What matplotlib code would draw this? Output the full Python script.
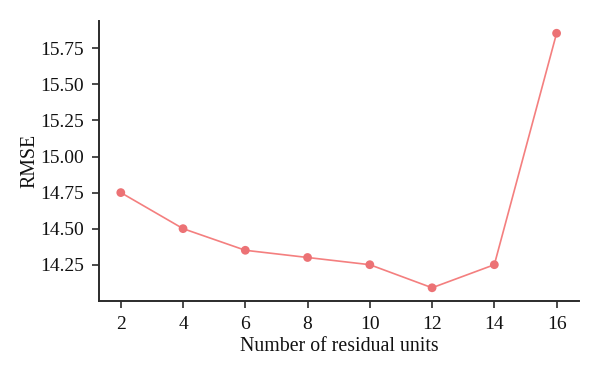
import numpy as np
import matplotlib.pyplot as plt

########################### data ################################
units = [2, 4, 6, 8, 10, 12, 14, 16]
rmse = [14.75, 14.50, 14.35, 14.30, 14.25, 14.09, 14.25, 15.855]
y_ticks = [14.25, 14.50, 14.75, 15.00, 15.25, 15.50, 15.75]
x_ticks = [2, 4, 6, 8, 10, 12, 14, 16]
#################################################################

plt.rcParams['font.family'] = ['Liberation Serif', 'DejaVu Serif']

fig = plt.figure(figsize=(6, 3.75), dpi=100)
ax = fig.add_axes([0.165, 0.198, 0.80, 0.746])

ax.plot(units, rmse, color='#f47f7f', linewidth=1.2, zorder=2)
ax.scatter(units, rmse, color='#ec7275', s=40, zorder=3, edgecolors='none')

ax.set_xlim(1.3, 16.72)
ax.set_ylim(14.0, 15.94)
ax.set_xticks(x_ticks)
ax.set_yticks(y_ticks)
ax.set_yticklabels(['%.2f' % v for v in y_ticks])

for side in ['top', 'right']:
    ax.spines[side].set_visible(False)
for side in ['left', 'bottom']:
    ax.spines[side].set_color('#2b2b2b')
    ax.spines[side].set_linewidth(1.4)

ax.tick_params(axis='both', colors='#2b2b2b', labelcolor='#111111',
               labelsize=14, length=5, width=1.2, direction='out', pad=6)

ax.set_xlabel('Number of residual units', fontsize=14.3, color='#111111', labelpad=3)
ax.set_ylabel('RMSE', fontsize=14.3, color='#111111', labelpad=0)

fig.savefig('out.png', dpi=100)
